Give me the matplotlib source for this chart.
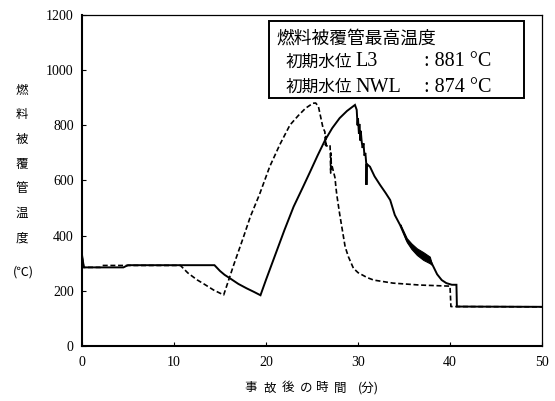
import matplotlib
matplotlib.use('Agg')
import matplotlib.pyplot as plt
from matplotlib.patches import Rectangle

# 初期水位 NWL (solid)
nwl_t = [0.0, 0.2, 4.5, 5.0, 14.4, 15.0, 15.5, 16.1, 17.0, 17.9, 18.7, 19.4,
         20.0, 21.0, 22.0, 23.0, 24.0, 24.8, 25.6, 26.4, 27.2, 28.0, 28.8, 29.67,
         29.86, 29.95, 30.0, 30.1, 30.15, 30.25, 30.3, 30.4, 30.5, 30.6, 30.7, 30.8,
         30.9, 30.92, 30.95, 31.3, 31.8, 32.4, 33.0, 33.5, 34.0, 34.57, 35.29, 35.8,
         36.38, 37.1, 37.83, 38.19, 38.6, 39.1, 39.6, 40.2, 40.7, 40.75, 50.0]
nwl_y = [330, 285, 285, 293, 293, 272, 258, 245, 225, 209, 196, 184,
         240, 330, 420, 505, 575, 632, 690, 745, 790, 826, 852, 874,
         856, 800, 825, 770, 805, 745, 780, 741, 718, 735, 690, 700,
         660, 584, 660, 650, 615, 584, 555, 529, 475, 439, 384, 362,
         342, 326, 312, 288, 260, 239, 228, 222, 222, 143, 142]

# oscillation band of the NWL curve
band_t = [34.6, 35.3, 35.8, 36.4, 37.1, 37.8, 38.0]
band_lo = [437, 377, 352, 330, 312, 300, 295]
band_hi = [441, 391, 372, 354, 340, 324, 300]

# 初期水位 L3 (dashed)
l3_t = [0.0, 0.2, 2.0, 2.3, 10.7, 11.5, 12.5, 13.2, 14.3, 15.4, 16.5, 17.5, 18.3,
        19.3, 20.4, 21.5, 22.6, 23.5, 24.3, 25.1, 25.4, 25.7, 26.2, 26.4, 26.45,
        26.5, 26.55, 26.96, 27.0, 27.03, 27.05, 27.1, 27.2, 27.5, 27.6, 27.7, 28.0,
        28.6, 28.95, 29.5, 30.0, 31.0, 31.7, 33.8, 36.7, 40.0, 40.1, 50.0]
l3_y = [325, 285, 285, 292, 292, 265, 240, 226, 203, 185, 295, 390, 469,
        550, 650, 730, 801, 835, 862, 880, 881, 868, 790, 777, 729,
        760, 725, 729, 690, 627, 700, 656, 650, 610, 575, 547, 480,
        360, 324, 282, 266, 248, 239, 228, 221, 217, 143, 142]

x_ticks = [0, 10, 20, 30, 40, 50]
y_ticks = [0, 200, 400, 600, 800, 1000, 1200]
ylabel_chars = ['燃', '料', '被', '覆', '管', '温', '度']
xlabel_chars = ['事', '故', '後', 'の', '時', '間', '(分)']
xlabel_pos = [251, 270, 288, 306, 322, 340, 368]
box_title = '燃料被覆管最高温度'
box_cjk = ['初期水位', '初期水位']
box_case = ['L3', 'NWL']
box_value = [': 881 °C', ': 874 °C']

serif = ['Liberation Serif', 'Noto Sans CJK JP']
cjk = ['Noto Sans CJK JP', 'DejaVu Sans']

fig = plt.figure(figsize=(5.55, 4.01), dpi=100)
ax = fig.add_axes([82 / 555, 1 - 346 / 401, 460 / 555, 331 / 401])

ax.plot(nwl_t, nwl_y, color='black', linewidth=1.4, solid_joinstyle='miter')
ax.fill_between(band_t, band_lo, band_hi, color='black', linewidth=0.8)
ax.plot(l3_t, l3_y, color='black', linewidth=1.2, linestyle=(0, (3, 1.6)))

ax.set_xlim(0, 50)
ax.set_ylim(0, 1200)
ax.set_xticks(x_ticks)
ax.set_yticks(y_ticks)
ax.tick_params(direction='in', length=3, width=0.8, labelsize=10)
ax.tick_params(axis='x', pad=7)
ax.tick_params(axis='y', pad=6)
for lab in ax.get_xticklabels() + ax.get_yticklabels():
    lab.set_family(serif)
ax.spines['left'].set_linewidth(1.5)
ax.spines['bottom'].set_linewidth(1.5)
ax.spines['top'].set_linewidth(0.9)
ax.spines['right'].set_linewidth(0.9)

# annotation box
fig.add_artist(Rectangle((269 / 555, 1 - 98 / 401), 255 / 555, 77 / 401,
                         transform=fig.transFigure, fill=False,
                         edgecolor='black', linewidth=1.4, zorder=5))
fig.text(276 / 555, 1 - 39 / 401, box_title, family=cjk, fontsize=12.8,
         va='center', ha='left')
for i in range(2):
    yy = 1 - (62 + 25 * i) / 401
    fig.text(286 / 555, yy, box_cjk[i], family=cjk, fontsize=12, va='center', ha='left')
    fig.text(355 / 555, yy, box_case[i], family=serif, fontsize=14.5, va='center', ha='left')
    fig.text(424 / 555, yy, box_value[i], family=serif, fontsize=14.5, va='center', ha='left')

# vertical y label
for i, ch in enumerate(ylabel_chars):
    fig.text(22 / 555, 1 - (90 + 24.7 * i) / 401, ch, family=cjk, fontsize=9,
             ha='center', va='center')
fig.text(23 / 555, 1 - 272 / 401, '(℃)', family=cjk, fontsize=9, ha='center', va='center')

for ch, xp in zip(xlabel_chars, xlabel_pos):
    fig.text(xp / 555, 1 - 388 / 401, ch, family=cjk, fontsize=9,
             ha='center', va='center')

fig.savefig('out.png', dpi=100)
